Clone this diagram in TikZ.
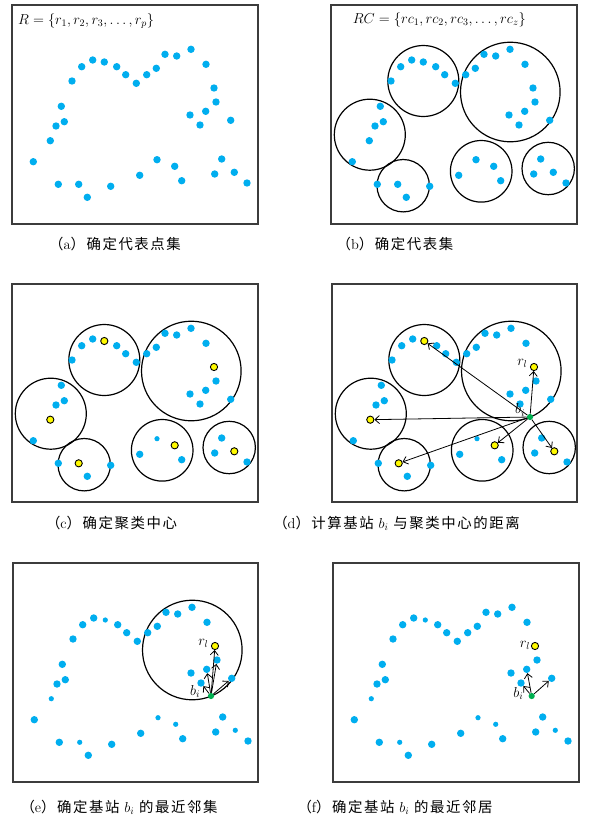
\documentclass[tikz,border=0pt]{standalone}
\usepackage{fontspec}
\newfontfamily\cjk[LetterSpace=11]{Noto Sans CJK SC}
\usetikzlibrary{arrows.meta}
\definecolor{dotblue}{RGB}{0,174,239}
\definecolor{dotyel}{RGB}{255,250,0}
\definecolor{dotgrn}{RGB}{0,176,80}
\definecolor{framegray}{RGB}{60,60,60}
\def\dotlist{1/179/44.3,2/153/49.3,3/164.7/51,4/194/59.3,5/69.7/61.7,6/80.7/55,7/92.3/57,8/104.7/61.7,9/113.7/69.7,10/124.3/78.3,11/134.7/69.7,12/144.3/63.3,13/60/76,14/202/83,15/204/97,16/193.7/106.3,17/178/110,18/188/120,19/218.7/115.3,20/49.3/101.3,21/52.3/116.7,22/44/121,23/38.3/135.7,24/21.3/156.7,25/145/154.7,26/162.7/161.3,27/209.7/154,28/169.7/175.7,29/202.7/169,30/222.3/167.3,31/235/178,32/127.7/170.3,33/46.3/179.3,34/66.7/179.3,35/75.3/192.3,36/98.7/181.3}
\tikzset{
  bdot/.style={circle,fill=dotblue,draw=none,inner sep=0pt,minimum size=7.4pt},
  sdot/.style={minimum size=5.2pt},
  ydot/.style={fill=dotyel,draw=black,line width=0.9pt,minimum size=7.2pt},
  gdot/.style={circle,fill=dotgrn,draw=none,inner sep=0pt,minimum size=6.2pt},
  clus/.style={circle,draw=black,line width=1.2pt,inner sep=0pt},
  frm/.style={draw=framegray,line width=1.4pt},
  arr/.style={-{Straight Barb[length=4.5pt,width=8pt]},line width=0.8pt},
  captxt/.style={font=\fontsize{14.4}{17}\selectfont,inner sep=0pt},
  lab/.style={font=\fontsize{14.4}{16}\selectfont,inner sep=0pt},
  kc/7/.style={ydot},kc/14/.style={ydot},kc/23/.style={ydot},kc/26/.style={ydot},
  kc/30/.style={ydot},kc/34/.style={ydot},kc/25/.style={sdot},
  ke/14/.style={ydot},ke/7/.style={sdot},ke/23/.style={sdot},ke/25/.style={sdot},
  ke/26/.style={sdot},ke/30/.style={sdot},ke/34/.style={sdot}
}
\newcommand\drawdots[2]{\foreach \i/\x/\y in \dotlist {\node[bdot,#2/\i/.try] (#1\i) at (\x,\y) {};}}
\newcommand\drawclusters[1]{%
  \node[clus,minimum size=71pt] (#1C1) at (92.3,76) {};
  \node[clus,minimum size=99.6pt] (#1C2) at (179.3,87) {};
  \node[clus,minimum size=71pt] (#1C3) at (38.8,129.7) {};
  \node[clus,minimum size=52.4pt] (#1C4) at (72.2,180.7) {};
  \node[clus,minimum size=61.6pt] (#1C5) at (150.2,166.3) {};
  \node[clus,minimum size=52.4pt] (#1C6) at (217.2,163.5) {};
}
\begin{document}
\begin{tikzpicture}[x=1pt,y=-1pt]
\useasboundingbox[fill=white] (0,0) rectangle (596,820);
% (a)
\begin{scope}[shift={(12,5)}]
  \draw[frm] (0,0) rectangle (246,219);
  \node[lab,anchor=west] (La) at (6,16) {$R=\{r_1,r_2,r_3,\ldots,r_p\}$};
  \drawdots{a}{ka}
\end{scope}
% (b)
\begin{scope}[shift={(331,5)}]
  \draw[frm] (0,0) rectangle (246,219);
  \node[lab,anchor=west] (Lb) at (21.7,15) {$RC=\{rc_1,rc_2,rc_3,\ldots,rc_z\}$};
  \drawclusters{b}
  \drawdots{b}{ka}
\end{scope}
% (c)
\begin{scope}[shift={(12,284)}]
  \draw[frm] (0,0) rectangle (246,218);
  \drawclusters{c}
  \drawdots{c}{kc}
\end{scope}
% (d)
\begin{scope}[shift={(332,284)}]
  \draw[frm] (0,0) rectangle (245,218);
  \drawclusters{d}
  \drawdots{d}{kc}
  \node[gdot] (db) at (198,133) {};
  \foreach \t in {7,14,23,34,26,30} \draw[arr] (db) -- (d\t);
  \node[lab] (drl) at (190.3,79.3) {$r_l$};
  \node[lab] (dbl) at (188,126) {$b_i$};
\end{scope}
% (e)
\begin{scope}[shift={(13,563)}]
  \draw[frm] (0,0) rectangle (245,219);
  \node[clus,minimum size=99.6pt] (eC2) at (179.3,87) {};
  \drawdots{e}{ke}
  \node[gdot] (eb) at (198,133) {};
  \foreach \t in {14,15,16,18,19} \draw[arr] (eb) -- (e\t);
  \node[lab] (erl) at (190.3,80.3) {$r_l$};
  \node[lab] (ebl) at (182,128.7) {$b_i$};
\end{scope}
% (f)
\begin{scope}[shift={(333,563)}]
  \draw[frm] (0,0) rectangle (246,219);
  \drawdots{f}{ke}
  \node[gdot] (fb) at (198.7,133) {};
  \foreach \t in {16,18,19} \draw[arr] (fb) -- (f\t);
  \node[lab] (frl) at (192,82) {$r_l$};
  \node[lab] (fbl) at (185.3,130.3) {$b_i$};
\end{scope}
% captions
\node[captxt] (ca) at (115,244) {\cjk （{\rmfamily a}）确定代表点集};
\node[captxt] (cb) at (395,244) {\cjk （{\rmfamily b}）确定代表集};
\node[captxt] (cc) at (111.5,523) {\cjk （{\rmfamily c}）确定聚类中心};
\node[captxt] (cd) at (396.5,523) {\cjk （{\rmfamily d}）计算基站 $b_i$ 与聚类中心的距离};
\node[captxt] (ce) at (119,807) {\cjk （{\rmfamily e}）确定基站 $b_i$ 的最近邻集};
\node[captxt] (cf) at (395,807) {\cjk （{\rmfamily f}）确定基站 $b_i$ 的最近邻居};
\end{tikzpicture}
\end{document}
